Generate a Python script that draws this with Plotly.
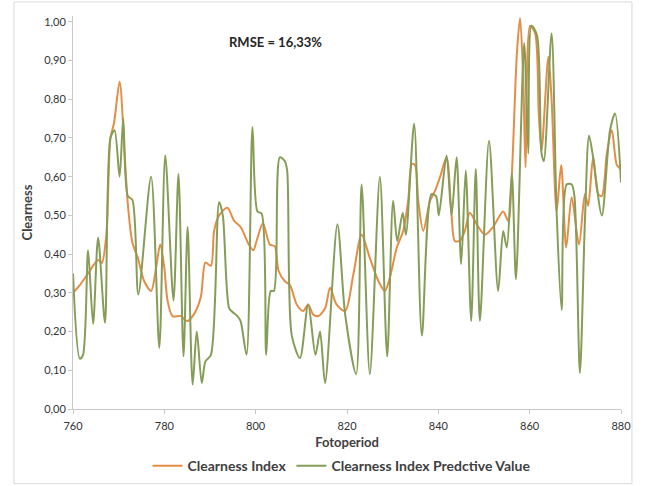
import plotly.graph_objects as go

# Measured clearness index (x = fotoperiod, y = index)
ci_x = [760.0, 761.5, 763.3, 765.5, 766.3, 767.3, 768.2, 769.0, 770.2, 771.3, 772.0, 773.0,
        774.2, 775.6, 777.1, 778.2, 779.1, 780.0, 780.7, 781.8, 783.6, 785.0, 786.5, 788.0,
        789.0, 790.2, 790.9, 792.0, 793.8, 795.3, 796.7, 798.5, 799.5, 800.2, 801.6, 803.1,
        804.2, 805.0, 806.4, 807.5, 809.0, 810.4, 811.5, 812.6, 813.7, 815.2, 816.3, 817.7,
        819.6, 821.4, 823.2, 825.0, 826.9, 828.3, 829.4, 830.9, 832.3, 833.4, 834.2, 834.9,
        835.6, 836.7, 838.2, 839.3, 840.4, 841.8, 842.9, 843.6, 844.7, 845.8, 846.9, 848.4,
        850.2, 852.0, 854.2, 855.3, 856.1, 857.2, 857.9, 858.6, 859.1, 860.1, 861.2, 862.0,
        862.6, 864.1, 864.8, 865.9, 866.9, 868.0, 869.2, 870.8, 872.1, 872.8, 873.9, 875.0,
        875.8, 876.9, 878.0, 879.1, 880.0]
ci_y = [0.30, 0.32, 0.35, 0.385, 0.377, 0.45, 0.70, 0.74, 0.845, 0.66, 0.53, 0.43,
        0.39, 0.33, 0.305, 0.365, 0.425, 0.365, 0.28, 0.24, 0.24, 0.227, 0.245, 0.29,
        0.378, 0.37, 0.46, 0.50, 0.52, 0.486, 0.47, 0.425, 0.41, 0.434, 0.48, 0.425,
        0.42, 0.357, 0.33, 0.32, 0.27, 0.253, 0.27, 0.244, 0.24, 0.26, 0.313, 0.27,
        0.253, 0.348, 0.45, 0.39, 0.33, 0.305, 0.34, 0.417, 0.46, 0.538, 0.633, 0.63,
        0.538, 0.46, 0.538, 0.564, 0.60, 0.65, 0.50, 0.434, 0.434, 0.46, 0.507, 0.477,
        0.45, 0.47, 0.51, 0.486, 0.607, 0.918, 1.01, 0.85, 0.624, 0.99, 0.97, 0.76,
        0.667, 0.91, 0.80, 0.51, 0.63, 0.417, 0.547, 0.425, 0.555, 0.525, 0.65, 0.555,
        0.55, 0.66, 0.72, 0.63, 0.62]

# Predicted clearness index
pv_x = [760.0, 761.5, 762.2, 763.3, 764.4, 765.5, 767.0, 768.2, 769.1, 770.2, 771.0, 772.0,
        773.0, 774.3, 777.1, 778.9, 780.2, 782.0, 783.1, 784.2, 785.1, 786.2, 787.1, 788.2,
        789.0, 790.2, 792.0, 792.8, 794.2, 795.0, 796.0, 796.7, 798.0, 799.3, 800.4, 801.3,
        802.3, 803.3, 804.0, 805.3, 806.4, 806.9, 807.9, 809.7, 811.5, 813.1, 814.1, 815.2,
        817.9, 819.6, 822.0, 823.2, 825.0, 827.2, 828.8, 830.1, 831.0, 832.2, 832.9, 834.7,
        836.4, 838.5, 839.5, 840.1, 841.8, 842.9, 844.0, 845.0, 846.0, 847.2, 848.2, 849.1,
        851.1, 853.1, 854.2, 855.0, 856.1, 857.0, 858.8, 859.7, 860.4, 861.6, 862.6, 863.1,
        864.8, 865.9, 867.0, 868.1, 869.2, 869.8, 871.0, 872.1, 873.0, 873.9, 875.8, 877.6,
        878.7, 880.0]
pv_y = [0.35, 0.13, 0.14, 0.41, 0.22, 0.443, 0.223, 0.70, 0.72, 0.60, 0.75, 0.55,
        0.54, 0.296, 0.60, 0.158, 0.655, 0.28, 0.607, 0.136, 0.47, 0.063, 0.20, 0.067,
        0.123, 0.14, 0.534, 0.50, 0.26, 0.25, 0.24, 0.227, 0.14, 0.728, 0.51, 0.505,
        0.14, 0.305, 0.305, 0.65, 0.64, 0.615, 0.19, 0.132, 0.27, 0.14, 0.20, 0.067,
        0.477, 0.244, 0.09, 0.58, 0.09, 0.60, 0.136, 0.538, 0.434, 0.507, 0.45, 0.737,
        0.19, 0.555, 0.55, 0.50, 0.655, 0.50, 0.65, 0.374, 0.616, 0.227, 0.62, 0.227,
        0.693, 0.305, 0.46, 0.417, 0.607, 0.335, 0.945, 0.66, 0.99, 0.965, 0.66, 0.64,
        0.97, 0.51, 0.256, 0.58, 0.58, 0.55, 0.093, 0.486, 0.706, 0.65, 0.50, 0.72,
        0.763, 0.585]

x_ticks = [760, 780, 800, 820, 840, 860, 880]
y_ticks = [0.0, 0.1, 0.2, 0.3, 0.4, 0.5, 0.6, 0.7, 0.8, 0.9, 1.0]

FONT = "Lato, 'Open Sans', sans-serif"
ORANGE = "#e58c45"
GREEN = "#869d58"

fig = go.Figure()
fig.add_trace(go.Scatter(
    x=ci_x, y=ci_y, mode="lines", name="<b>Clearness Index</b>",
    line=dict(color=ORANGE, width=2, shape="spline", smoothing=0.8),
))
fig.add_trace(go.Scatter(
    x=pv_x, y=pv_y, mode="lines", name="<b>Clearness Index Predctive Value</b>",
    line=dict(color=GREEN, width=2, shape="spline", smoothing=0.8),
))

axis_line = "#c8c8c8"
fig.update_layout(
    width=646, height=486,
    margin=dict(l=73, r=25, t=16, b=77, autoexpand=False),
    paper_bgcolor="white", plot_bgcolor="white",
    separators=",.",
    font=dict(family=FONT, size=11, color="#404040"),
    showlegend=True,
    legend=dict(orientation="h", x=0.49, xanchor="center", y=-0.105, yanchor="top",
                font=dict(size=14, color="#404040"), itemwidth=30,
                traceorder="normal"),
    xaxis=dict(range=[760, 880], tickvals=x_ticks, ticktext=[str(v) for v in x_ticks],
               showgrid=False, zeroline=False, showline=True, linecolor=axis_line,
               linewidth=1, ticks="outside", ticklen=4, tickcolor=axis_line,
               ticklabelstandoff=3, automargin=False,
               tickfont=dict(size=11, color="#333333"),
               title=dict(text="<b>Fotoperiod</b>", font=dict(size=13, color="#404040"),
                          standoff=6)),
    yaxis=dict(range=[0, 1.015], tickvals=y_ticks, tickformat=".2f",
               showgrid=False, zeroline=False, showline=True, linecolor=axis_line,
               linewidth=1, ticks="outside", ticklen=4, tickcolor=axis_line,
               automargin=False,
               tickfont=dict(size=11, color="#333333"),
               title=dict(text="<b>Clearness</b>", font=dict(size=13, color="#404040"),
                          standoff=8)),
    annotations=[dict(text="<b>RMSE = 16,33%</b>", x=0.369, y=0.959, xref="paper",
                      yref="paper", showarrow=False,
                      font=dict(size=13, color="#262626", family=FONT))],
    shapes=[dict(type="rect", xref="paper", yref="paper", x0=-0.1077, x1=1.02,
                 y0=-0.19, y1=1.0356, line=dict(color="#d9d9d9", width=1))],
)

fig.write_html("out.html")
